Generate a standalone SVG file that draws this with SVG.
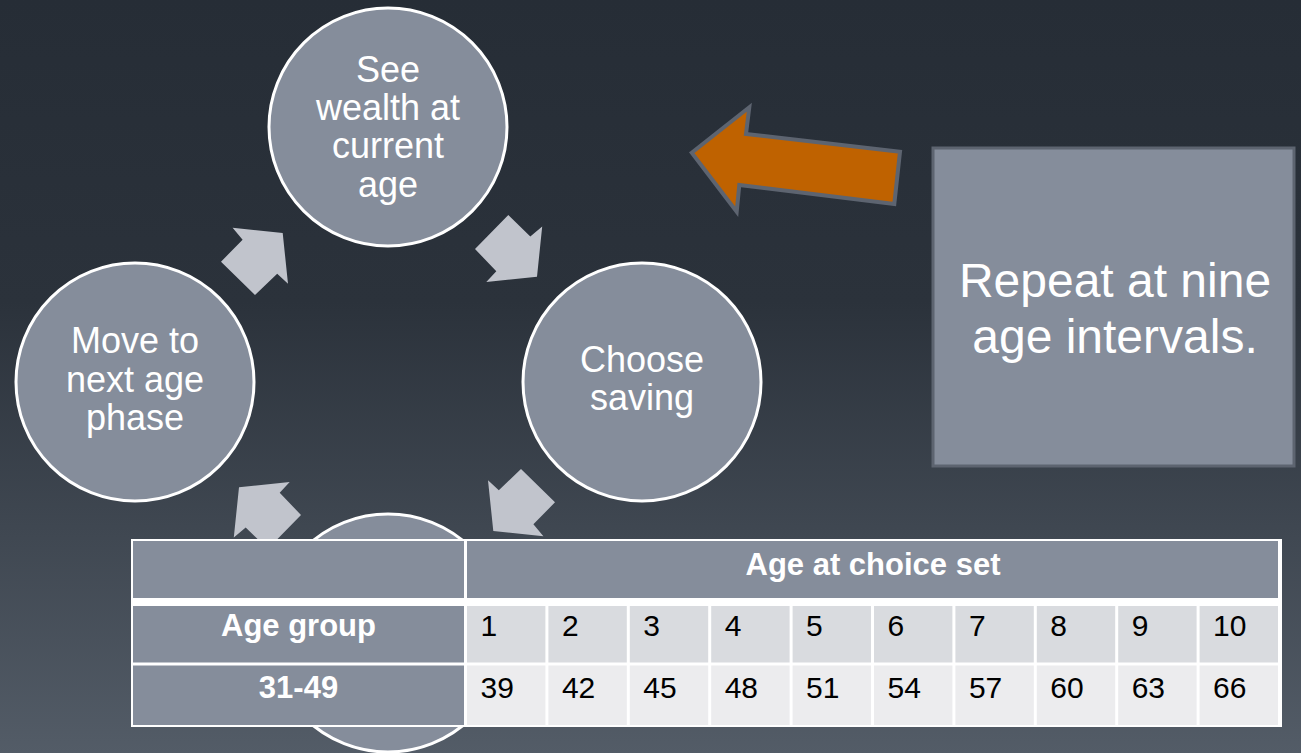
<svg xmlns="http://www.w3.org/2000/svg" width="1301" height="753" viewBox="0 0 1301 753">
<defs>
<linearGradient id="bg" x1="0" y1="0" x2="0" y2="1">
<stop offset="0" stop-color="#262d36"/>
<stop offset="0.4" stop-color="#2b323b"/>
<stop offset="1" stop-color="#535c67"/>
</linearGradient>
<polygon id="chev" points="475,249 508.3,215 530.3,236.6 542.2,226.6 537,276.7 486.3,282 496.3,271.2"/>
</defs>
<style>
.circ{fill:#858d9b;stroke:#ffffff;stroke-width:3}
.ct{font-family:"Liberation Sans",Arial,sans-serif;font-size:36px;fill:#ffffff;text-anchor:middle}
.chev{fill:#c1c4cc}
.hd{fill:#858d9b}
.r2{fill:#d9dbdf}
.r3{fill:#ececee}
.th{font-family:"Liberation Sans",Arial,sans-serif;font-size:31px;font-weight:bold;fill:#ffffff;text-anchor:middle}
.td{font-family:"Liberation Sans",Arial,sans-serif;font-size:30px;fill:#000000}
.bt{font-family:"Liberation Sans",Arial,sans-serif;font-size:48px;fill:#ffffff;text-anchor:middle}
</style>
<rect x="0" y="0" width="1301" height="753" fill="url(#bg)"/>

<g id="node-bottom">
<circle class="circ" cx="388" cy="633" r="119"/>
</g>
<g id="node-top">
<circle class="circ" cx="388" cy="127" r="119"/>
<text class="ct" x="388" y="81.7">See</text>
<text class="ct" x="388" y="120">wealth at</text>
<text class="ct" x="388" y="158.3">current</text>
<text class="ct" x="388" y="196.7">age</text>
</g>
<g id="node-right">
<circle class="circ" cx="642" cy="382" r="119"/>
<text class="ct" x="642" y="371.7">Choose</text>
<text class="ct" x="642" y="410">saving</text>
</g>
<g id="node-left">
<circle class="circ" cx="135" cy="382" r="119"/>
<text class="ct" x="135" y="353.3">Move to</text>
<text class="ct" x="135" y="391.7">next age</text>
<text class="ct" x="135" y="430">phase</text>
</g>

<g id="connectors">
<use href="#chev" class="chev"/>
<use href="#chev" class="chev" transform="rotate(90 388 382)"/>
<use href="#chev" class="chev" transform="rotate(180 388 382)"/>
<use href="#chev" class="chev" transform="rotate(270 388 382)"/>
<polygon points="691.7,152.7 749.3,107.3 746,134 900,151.7 894.3,204 739.3,185 736.7,211.7" fill="#bf6200" stroke="#5d6470" stroke-width="4" stroke-linejoin="miter"/>
</g>

<g id="node-box">
<rect x="933" y="148" width="361" height="318" fill="#858d9b" stroke="#5d6470" stroke-width="3"/>
<text class="bt" x="1115" y="296.7">Repeat at nine</text>
<text class="bt" x="1115" y="353">age intervals.</text>
</g>

<g id="table">
<rect x="131" y="539" width="1151" height="188" fill="#ffffff"/>
<rect class="hd" x="133" y="541" width="331" height="57"/>
<rect class="hd" x="467" y="541" width="811" height="57"/>
<rect class="hd" x="133" y="606" width="331" height="56.5"/>
<rect class="hd" x="133" y="665.5" width="331" height="59.5"/>
<g id="row2">
<rect class="r2" x="467" y="606" width="78.4" height="56.5"/>
<rect class="r2" x="548.4" y="606" width="78.4" height="56.5"/>
<rect class="r2" x="629.8" y="606" width="78.4" height="56.5"/>
<rect class="r2" x="711.2" y="606" width="78.4" height="56.5"/>
<rect class="r2" x="792.6" y="606" width="78.4" height="56.5"/>
<rect class="r2" x="874" y="606" width="78.4" height="56.5"/>
<rect class="r2" x="955.4" y="606" width="78.4" height="56.5"/>
<rect class="r2" x="1036.8" y="606" width="78.4" height="56.5"/>
<rect class="r2" x="1118.2" y="606" width="78.4" height="56.5"/>
<rect class="r2" x="1199.6" y="606" width="78.4" height="56.5"/>
</g>
<g id="row3">
<rect class="r3" x="467" y="665.5" width="78.4" height="59.5"/>
<rect class="r3" x="548.4" y="665.5" width="78.4" height="59.5"/>
<rect class="r3" x="629.8" y="665.5" width="78.4" height="59.5"/>
<rect class="r3" x="711.2" y="665.5" width="78.4" height="59.5"/>
<rect class="r3" x="792.6" y="665.5" width="78.4" height="59.5"/>
<rect class="r3" x="874" y="665.5" width="78.4" height="59.5"/>
<rect class="r3" x="955.4" y="665.5" width="78.4" height="59.5"/>
<rect class="r3" x="1036.8" y="665.5" width="78.4" height="59.5"/>
<rect class="r3" x="1118.2" y="665.5" width="78.4" height="59.5"/>
<rect class="r3" x="1199.6" y="665.5" width="78.4" height="59.5"/>
</g>
<text class="th" x="873" y="575">Age at choice set</text>
<text class="th" x="298.5" y="636">Age group</text>
<text class="th" x="298.5" y="697.7">31-49</text>
<text class="td" x="480.5" y="636">1</text>
<text class="td" x="561.9" y="636">2</text>
<text class="td" x="643.3" y="636">3</text>
<text class="td" x="724.7" y="636">4</text>
<text class="td" x="806.1" y="636">5</text>
<text class="td" x="887.5" y="636">6</text>
<text class="td" x="968.9" y="636">7</text>
<text class="td" x="1050.3" y="636">8</text>
<text class="td" x="1131.7" y="636">9</text>
<text class="td" x="1213.1" y="636">10</text>
<text class="td" x="480.5" y="697.7">39</text>
<text class="td" x="561.9" y="697.7">42</text>
<text class="td" x="643.3" y="697.7">45</text>
<text class="td" x="724.7" y="697.7">48</text>
<text class="td" x="806.1" y="697.7">51</text>
<text class="td" x="887.5" y="697.7">54</text>
<text class="td" x="968.9" y="697.7">57</text>
<text class="td" x="1050.3" y="697.7">60</text>
<text class="td" x="1131.7" y="697.7">63</text>
<text class="td" x="1213.1" y="697.7">66</text>
</g>
</svg>
